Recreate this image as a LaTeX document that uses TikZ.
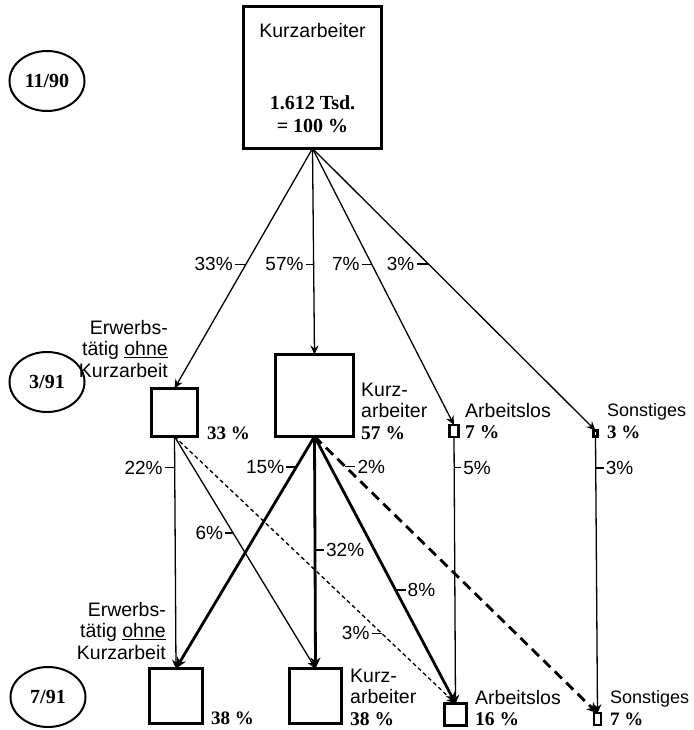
\documentclass[tikz,border=0pt]{standalone}
\usepackage{fontspec}
\setmainfont{Liberation Sans}
\newfontfamily\numfont{Liberation Serif}
\usetikzlibrary{arrows.meta,shapes.geometric}
\begin{document}
\begin{tikzpicture}[x=1pt,y=-1pt,
  box/.style={draw, line width=2.8pt, inner sep=0pt, outer sep=0pt},
  sbox/.style={draw, line width=2.2pt, inner sep=0pt, outer sep=0pt},
  datebox/.style={draw, line width=2pt, ellipse, inner sep=0pt, minimum width=75pt, minimum height=60pt, font=\numfont\bfseries\fontsize{20}{22}\selectfont},
  thinarr/.style={line width=1.3pt, -{Stealth[length=9pt,width=8pt]}},
  thickarr/.style={line width=2.8pt, -{Stealth[length=11pt,width=10pt]}},
  dthinarr/.style={thinarr, dash pattern=on 4pt off 3pt},
  dthickarr/.style={thickarr, dash pattern=on 10pt off 6pt},
  tickln/.style={line width=1.3pt},
  pct/.style={font=\fontsize{19}{21}\selectfont, inner sep=1.5pt},
  lab/.style={font=\fontsize{19.5}{21.5}\selectfont, inner sep=0pt},
  slab/.style={font=\fontsize{18}{21.5}\selectfont, inner sep=0pt},
  valtxt/.style={font=\numfont\bfseries\fontsize{19}{21}\selectfont, inner sep=0pt},
  bigval/.style={font=\numfont\bfseries\fontsize{20}{22}\selectfont, inner sep=0pt},
]
\useasboundingbox (0,0) rectangle (693,730);

% date ellipses
\node[datebox] (d1) at (47,81) {11/90};
\node[datebox] (d2) at (47,382) {3/91};
\node[datebox] (d3) at (48,697) {7/91};

% top box
\node[box, minimum width=138pt, minimum height=142pt] (top) at (312.5,77.5) {};
\node[lab] (t1) at (312.5,31) {Kurzarbeiter};
\node[bigval] (t2) at (312.5,103) {1.612 Tsd.};
\node[bigval] (t3) at (312.5,126) {= 100 \%};

% level 2 boxes
\node[box, minimum width=46pt, minimum height=48pt] (E1) at (174.5,412.5) {};
\node[box, minimum width=78pt, minimum height=82pt] (K1) at (314.5,395.5) {};
\node[box, minimum width=9pt, minimum height=12pt] (A1) at (454,431) {};
\node[sbox, minimum width=4pt, minimum height=6pt] (S1) at (595.5,433.5) {};

% level 3 boxes
\node[box, minimum width=53pt, minimum height=55pt] (E2) at (176,696) {};
\node[box, minimum width=52pt, minimum height=55pt] (K2) at (315.5,696) {};
\node[box, minimum width=22pt, minimum height=22pt] (A2) at (455.5,714.5) {};
\node[sbox, minimum width=6.5pt, minimum height=11.5pt] (S2) at (597.5,719) {};

% level 2 labels
\node[lab, align=right, anchor=east] (l2e) at (168,349) {Erwerbs-\\t\"atig \underline{ohne}\\Kurzarbeit};
\node[valtxt, anchor=base west] (l2ev) at (207,439) {33 \%};
\node[lab, align=left, anchor=west] (l2k) at (361,411) {Kurz-\\arbeiter\\{\numfont\bfseries 57 \%}};
\node[lab, align=left, anchor=west] (l2a) at (465,421) {Arbeitslos\\{\numfont\bfseries 7 \%}};
\node[slab, align=left, anchor=west] (l2s) at (607,421) {Sonstiges\\{\numfont\bfseries\fontsize{19}{21}\selectfont 3 \%}};

% level 3 labels
\node[lab, align=right, anchor=east] (l3e) at (166,631) {Erwerbs-\\t\"atig \underline{ohne}\\Kurzarbeit};
\node[valtxt, anchor=base west] (l3ev) at (211,724) {38 \%};
\node[lab, align=left, anchor=west] (l3k) at (350,697) {Kurz-\\arbeiter\\{\numfont\bfseries 38 \%}};
\node[lab, align=left, anchor=west] (l3a) at (475,708) {Arbeitslos\\{\numfont\bfseries 16 \%}};
\node[slab, align=left, anchor=west] (l3s) at (610,708) {Sonstiges\\{\numfont\bfseries\fontsize{19}{21}\selectfont 7 \%}};

% arrows from top
\draw[thinarr] (top.south) -- (E1.north) coordinate[pos=0.483] (c1);
\draw[thinarr] (top.south) -- (K1.north) coordinate[pos=0.563] (c2);
\draw[thinarr] (top.south) -- (A1.north) coordinate[pos=0.419] (c3);
\draw[thinarr] (top.south) -- (S1.north) coordinate[pos=0.41] (c4);
\draw[tickln] (c1) -- ++(-11,0) node[pct, anchor=east] (p1) {33\%};
\draw[tickln] (c2) -- ++(-8,0) node[pct, anchor=east] (p2) {57\%};
\draw[tickln] (c3) -- ++(-10,0) node[pct, anchor=east] (p3) {7\%};
\draw[tickln] (c4) -- ++(-12,0) node[pct, anchor=east] (p4) {3\%};

% arrows from E1
\draw[thinarr] (E1.south) -- (E2.north) coordinate[pos=0.135] (c5);
\draw[thinarr] (E1.south) -- (K2.north) coordinate[pos=0.416] (c6);
\draw[dthinarr] (E1.south) -- (A2.north) coordinate[pos=0.737] (c7);
\draw[tickln] (c5) -- ++(-10,0) node[pct, anchor=east] (p5) {22\%};
\draw[tickln] (c6) -- ++(-8,0) node[pct, anchor=east] (p6) {6\%};
\draw[tickln] (c7) -- ++(-10,0) node[pct, anchor=east] (p7) {3\%};

% arrows from K1
\draw[thickarr] (K1.south) -- (E2.north) coordinate[pos=0.131] (c8);
\draw[thickarr] (K1.south) -- (K2.north) coordinate[pos=0.489] (c9);
\draw[thickarr] (K1.south) -- (A2.north) coordinate[pos=0.575] (c10);
\draw[dthickarr] (K1.south) -- (S2.north) coordinate[pos=0.109] (c11);
\draw[tickln] (c8) -- ++(-10,0) node[pct, anchor=east] (p8) {15\%};
\draw[tickln] (c9) -- ++(9,0) node[pct, anchor=west] (p9) {32\%};
\draw[tickln] (c10) -- ++(10,0) node[pct, anchor=west] (p10) {8\%};
\draw[tickln] (c11) -- ++(10,0) node[pct, anchor=west] (p11) {2\%};

% arrows from A1 and S1
\draw[thinarr] (A1.south) -- (A2.north) coordinate[pos=0.115] (c12);
\draw[thinarr] (S1.south) -- (S2.north) coordinate[pos=0.114] (c13);
\draw[tickln] (c12) -- ++(7,0) node[pct, anchor=west] (p12) {5\%};
\draw[tickln] (c13) -- ++(8,0) node[pct, anchor=west] (p13) {3\%};
\end{tikzpicture}
\end{document}
